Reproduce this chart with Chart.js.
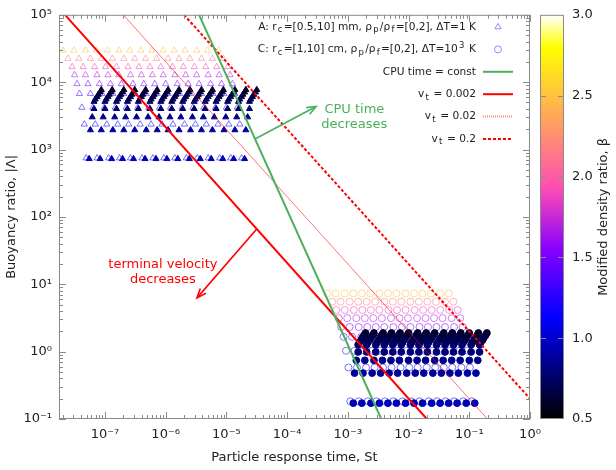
<!DOCTYPE html>
<html><head><meta charset="utf-8">
<script src="https://cdn.jsdelivr.net/npm/chart.js@4/dist/chart.umd.min.js"></script>
<style>html,body{margin:0;padding:0;background:#fff}#wrap{width:616px;height:470px;position:relative}</style>
</head><body><div id="wrap"><canvas id="c" width="616" height="470"></canvas></div>
<script>
const FONT = "'DejaVu Sans', sans-serif";
// ---------------- data ----------------
const xTickValues = [1e-7, 1e-6, 1e-5, 1e-4, 1e-3, 1e-2, 1e-1, 1];
const xTickLabels = ['10⁻⁷', '10⁻⁶', '10⁻⁵', '10⁻⁴', '10⁻³', '10⁻²', '10⁻¹', '10⁰'];
const yTickValues = [0.1, 1, 10, 100, 1000, 10000, 100000];
const yTickLabels = ['10⁻¹', '10⁰', '10¹', '10²', '10³', '10⁴', '10⁵'];
const cbTicks = [0.5, 1.0, 1.5, 2.0, 2.5, 3.0];
const cbTickLabels = ['0.5', '1.0', '1.5', '2.0', '2.5', '3.0'];

// modified density ratio of each row of points (same rows for case A and case C)
const betaRows = [2.5, 2.14, 1.88, 1.67, 1.5, 1.36, 1.25, 1.15, 1.07, 0.94, 0.88, 0.83, 0.79, 0.75, 0.71, 0.68, 0.65, 0.63, 0.6];
// buoyancy ratio |Λ| of each row
const lambdaA = [29700, 22400, 16900, 12800, 9440, 6750, 4210, 2370, 746, 728, 1950, 3030, 4030, 5150, 5580, 6050, 6560, 7110, 7710];
const lambdaC = [7.29, 5.51, 4.15, 3.14, 2.32, 1.66, 1.03, 0.582, 0.183, 0.172, 0.480, 0.743, 0.989, 1.26, 1.37, 1.49, 1.61, 1.75, 1.89];
// log10 of particle response time St, per row (15 particle radii)
const logStA = [
[-7.69,-7.51,-7.32,-7.14,-6.96,-6.77,-6.59,-6.41,-6.23,-6.04,-5.86,-5.68,-5.49,-5.31,-5.13],
[-7.61,-7.43,-7.24,-7.06,-6.88,-6.69,-6.51,-6.33,-6.15,-5.96,-5.78,-5.60,-5.41,-5.23,-5.05],
[-7.54,-7.36,-7.17,-6.99,-6.81,-6.62,-6.44,-6.26,-6.08,-5.89,-5.71,-5.53,-5.34,-5.16,-4.98],
[-7.50,-7.32,-7.13,-6.95,-6.77,-6.58,-6.40,-6.22,-6.04,-5.85,-5.67,-5.49,-5.30,-5.12,-4.94],
[-7.46,-7.28,-7.09,-6.91,-6.73,-6.54,-6.36,-6.18,-6.00,-5.81,-5.63,-5.45,-5.26,-5.08,-4.90],
[-7.42,-7.24,-7.05,-6.87,-6.69,-6.50,-6.32,-6.14,-5.96,-5.77,-5.59,-5.41,-5.22,-5.04,-4.86],
[-7.38,-7.20,-7.01,-6.83,-6.65,-6.46,-6.28,-6.10,-5.92,-5.73,-5.55,-5.37,-5.18,-5.00,-4.82],
[-7.34,-7.16,-6.97,-6.79,-6.61,-6.42,-6.24,-6.06,-5.88,-5.69,-5.51,-5.33,-5.14,-4.96,-4.78],
[-7.31,-7.13,-6.94,-6.76,-6.58,-6.39,-6.21,-6.03,-5.85,-5.66,-5.48,-5.30,-5.11,-4.93,-4.75],
[-7.26,-7.08,-6.89,-6.71,-6.53,-6.34,-6.16,-5.98,-5.80,-5.61,-5.43,-5.25,-5.06,-4.88,-4.70],
[-7.24,-7.06,-6.87,-6.69,-6.51,-6.32,-6.14,-5.96,-5.78,-5.59,-5.41,-5.23,-5.04,-4.86,-4.68],
[-7.21,-7.03,-6.84,-6.66,-6.48,-6.29,-6.11,-5.93,-5.75,-5.56,-5.38,-5.20,-5.01,-4.83,-4.65],
[-7.18,-7.00,-6.81,-6.63,-6.45,-6.26,-6.08,-5.90,-5.72,-5.53,-5.35,-5.17,-4.98,-4.80,-4.62],
[-7.18,-7.00,-6.81,-6.63,-6.45,-6.26,-6.08,-5.90,-5.72,-5.53,-5.35,-5.17,-4.98,-4.80,-4.62],
[-7.16,-6.98,-6.79,-6.61,-6.43,-6.24,-6.06,-5.88,-5.70,-5.51,-5.33,-5.15,-4.96,-4.78,-4.60],
[-7.13,-6.95,-6.76,-6.58,-6.40,-6.21,-6.03,-5.85,-5.67,-5.48,-5.30,-5.12,-4.93,-4.75,-4.57],
[-7.11,-6.93,-6.74,-6.56,-6.38,-6.19,-6.01,-5.83,-5.65,-5.46,-5.28,-5.10,-4.91,-4.73,-4.55],
[-7.08,-6.90,-6.71,-6.53,-6.35,-6.16,-5.98,-5.80,-5.62,-5.43,-5.25,-5.07,-4.88,-4.70,-4.52],
[-7.06,-6.88,-6.69,-6.51,-6.33,-6.14,-5.96,-5.78,-5.60,-5.41,-5.23,-5.05,-4.86,-4.68,-4.50]
];
const logStC = [
[-3.34,-3.20,-3.05,-2.91,-2.77,-2.63,-2.48,-2.34,-2.20,-2.05,-1.91,-1.77,-1.63,-1.48,-1.34],
[-3.26,-3.12,-2.97,-2.83,-2.69,-2.55,-2.40,-2.26,-2.12,-1.97,-1.83,-1.69,-1.55,-1.40,-1.26],
[-3.19,-3.05,-2.90,-2.76,-2.62,-2.48,-2.33,-2.19,-2.05,-1.90,-1.76,-1.62,-1.48,-1.33,-1.19],
[-3.15,-3.01,-2.86,-2.72,-2.58,-2.44,-2.29,-2.15,-2.01,-1.86,-1.72,-1.58,-1.44,-1.29,-1.15],
[-3.11,-2.97,-2.82,-2.68,-2.54,-2.40,-2.25,-2.11,-1.97,-1.82,-1.68,-1.54,-1.40,-1.25,-1.11],
[-3.07,-2.93,-2.78,-2.64,-2.50,-2.36,-2.21,-2.07,-1.93,-1.78,-1.64,-1.50,-1.36,-1.21,-1.07],
[-3.03,-2.89,-2.74,-2.60,-2.46,-2.32,-2.17,-2.03,-1.89,-1.74,-1.60,-1.46,-1.32,-1.17,-1.03],
[-2.99,-2.85,-2.70,-2.56,-2.42,-2.28,-2.13,-1.99,-1.85,-1.70,-1.56,-1.42,-1.28,-1.13,-0.99],
[-2.96,-2.82,-2.67,-2.53,-2.39,-2.25,-2.10,-1.96,-1.82,-1.67,-1.53,-1.39,-1.25,-1.10,-0.96],
[-2.91,-2.77,-2.62,-2.48,-2.34,-2.20,-2.05,-1.91,-1.77,-1.62,-1.48,-1.34,-1.20,-1.05,-0.91],
[-2.89,-2.75,-2.60,-2.46,-2.32,-2.18,-2.03,-1.89,-1.75,-1.60,-1.46,-1.32,-1.18,-1.03,-0.89],
[-2.86,-2.72,-2.57,-2.43,-2.29,-2.15,-2.00,-1.86,-1.72,-1.57,-1.43,-1.29,-1.15,-1.00,-0.86],
[-2.83,-2.69,-2.54,-2.40,-2.26,-2.12,-1.97,-1.83,-1.69,-1.54,-1.40,-1.26,-1.12,-0.97,-0.83],
[-2.83,-2.69,-2.54,-2.40,-2.26,-2.12,-1.97,-1.83,-1.69,-1.54,-1.40,-1.26,-1.12,-0.97,-0.83],
[-2.81,-2.67,-2.52,-2.38,-2.24,-2.10,-1.95,-1.81,-1.67,-1.52,-1.38,-1.24,-1.10,-0.95,-0.81],
[-2.78,-2.64,-2.49,-2.35,-2.21,-2.07,-1.92,-1.78,-1.64,-1.49,-1.35,-1.21,-1.07,-0.92,-0.78],
[-2.76,-2.62,-2.47,-2.33,-2.19,-2.05,-1.90,-1.76,-1.62,-1.47,-1.33,-1.19,-1.05,-0.90,-0.76],
[-2.73,-2.59,-2.44,-2.30,-2.16,-2.02,-1.87,-1.73,-1.59,-1.44,-1.30,-1.16,-1.02,-0.87,-0.73],
[-2.71,-2.57,-2.42,-2.28,-2.14,-2.00,-1.85,-1.71,-1.57,-1.42,-1.28,-1.14,-1.00,-0.85,-0.71]
];
// reference lines (end points)
const cpuLine    = [{x:3.55e-6, y:1e5}, {x:3.55e-3, y:0.1}];
const vt0002Line = [{x:2.2e-8, y:1e5}, {x:2e-2, y:0.1}];
const vt002Line  = [{x:2e-7, y:1e5}, {x:2e-1, y:0.1}];
const vt02Line   = [{x:2e-6, y:1e5}, {x:1, y:0.2}];
// annotation anchors (data coordinates)
const cpuArrow = [{x:2.96e-5, y:1430}, {x:3.0e-4, y:4350}];
const cpuText = {x:1.28e-3, y:3950, lines:['CPU time', 'decreases']};
const vtArrow = [{x:3.19e-5, y:66.5}, {x:3.28e-6, y:6.28}];
const vtText = {x:9.0e-7, y:19.8, lines:['terminal velocity', 'decreases']};

// ---------------- palette (gnuplot rgbformulae 30,31,32) ----------------
const CB_MIN = 0.5, CB_MAX = 3.0;
function clamp(v){return Math.max(0, Math.min(1, v));}
function palette(beta, alpha){
  const x = clamp((beta - CB_MIN) / (CB_MAX - CB_MIN));
  const r = clamp(x/0.32 - 0.78125);
  const g = clamp(2*x - 0.84);
  let b;
  if (x < 0.25) b = 4*x; else if (x < 0.42) b = 1; else if (x < 0.92) b = -2*x + 1.84; else b = x/0.08 - 11.5;
  b = clamp(b);
  return `rgba(${Math.round(r*255)},${Math.round(g*255)},${Math.round(b*255)},${alpha == null ? 1 : alpha})`;
}

// ---------------- datasets ----------------
const datasets = [];
function addFamily(logSt, lambdas, style, rOpen, rFill){
  betaRows.forEach((beta, i) => {
    const open = beta > 1;
    datasets.push({
      type: 'scatter',
      data: logSt[i].map(e => ({x: Math.pow(10, e), y: lambdas[i]})),
      pointStyle: style,
      pointRadius: open ? rOpen : rFill,
      borderWidth: 1,
      borderColor: open ? palette(beta, 0.55) : palette(beta),
      backgroundColor: open ? 'rgba(0,0,0,0)' : palette(beta),
      order: open ? 3 : 2
    });
  });
}
addFamily(logStA, lambdaA, 'triangle', 3.6, 3.5);
addFamily(logStC, lambdaC, 'circle', 3.5, 3.4);
const RED_THIN = 'rgba(255,0,0,0.55)';
function addLine(data, color, width, dash){
  datasets.push({type:'scatter', data, showLine:true, pointRadius:0, borderColor:color, borderWidth:width, borderDash:dash, backgroundColor:color, order:0});
}
addLine(cpuLine, '#4caf5a', 2, []);
addLine(vt0002Line, '#ff0000', 2, []);
addLine(vt002Line, RED_THIN, 1, []);
addLine(vt02Line, '#ff0000', 2, [3,2]);

// ---------------- plugins ----------------
const GRAY = '#8a8a8a';
const framePlugin = {
  id: 'frame',
  afterDatasetsDraw(chart){
    const {ctx, chartArea: a, scales: {x, y}} = chart;
    ctx.save();
    ctx.strokeStyle = GRAY; ctx.lineWidth = 1;
    ctx.strokeRect(a.left + 0.5, a.top + 0.5, a.right - a.left - 1, a.bottom - a.top - 1);
    ctx.beginPath();
    for (let k = -8; k <= 0; k++) {
      for (let m = 1; m <= 9; m++) {
        const v = m * Math.pow(10, k);
        if (v < x.min * 0.999 || v > x.max * 1.001) continue;
        const px = Math.round(x.getPixelForValue(v)) + 0.5;
        const L = m === 1 ? 7 : 4;
        ctx.moveTo(px, a.bottom); ctx.lineTo(px, a.bottom - L);
        ctx.moveTo(px, a.top); ctx.lineTo(px, a.top + L);
      }
    }
    for (let k = -1; k <= 5; k++) {
      for (let m = 1; m <= 9; m++) {
        const v = m * Math.pow(10, k);
        if (v < y.min * 0.999 || v > y.max * 1.001) continue;
        const py = Math.round(y.getPixelForValue(v)) + 0.5;
        const L = m === 1 ? 7 : 4;
        ctx.moveTo(a.left, py); ctx.lineTo(a.left + L, py);
        ctx.moveTo(a.right, py); ctx.lineTo(a.right - L, py);
      }
    }
    ctx.stroke();
    ctx.restore();
  }
};

function drawArrow(ctx, x0, y0, x1, y1, color){
  ctx.save();
  ctx.strokeStyle = color; ctx.lineWidth = 1.6;
  ctx.beginPath(); ctx.moveTo(x0, y0); ctx.lineTo(x1, y1); ctx.stroke();
  const ang = Math.atan2(y1 - y0, x1 - x0), L = 10, h = 0.38;
  ctx.beginPath();
  ctx.moveTo(x1 - L*Math.cos(ang - h), y1 - L*Math.sin(ang - h));
  ctx.lineTo(x1, y1);
  ctx.lineTo(x1 - L*Math.cos(ang + h), y1 - L*Math.sin(ang + h));
  ctx.stroke();
  ctx.restore();
}

const SUB = 0.8, SUBGAP = 2.5;
function segWidth(ctx, s, size){
  ctx.font = `${s[1] ? size*SUB : size}px ${FONT}`;
  return ctx.measureText(s[0]).width + (s[1] ? SUBGAP : 0);
}
function drawRich(ctx, segs, xRight, yMid, size){
  let x = xRight - segs.reduce((w, s) => w + segWidth(ctx, s, size), 0);
  ctx.textBaseline = 'middle'; ctx.textAlign = 'left';
  segs.forEach(s => {
    const w = segWidth(ctx, s, size);
    const dy = s[1] === 'sub' ? size*0.3 : s[1] === 'sup' ? -size*0.38 : 0;
    ctx.fillText(s[0], x + (s[1] ? SUBGAP/2 : 0), yMid + dy);
    x += w;
  });
}

const legendEntries = [
  {segs:[['A: r',''],['c','sub'],['=[0.5,10] mm, ρ',''],['p','sub'],['/ρ',''],['f','sub'],['=[0,2], ΔT=1 K','']], kind:'tri'},
  {segs:[['C: r',''],['c','sub'],['=[1,10] cm, ρ',''],['p','sub'],['/ρ',''],['f','sub'],['=[0,2], ΔT=10',''],['3','sup'],[' K','']], kind:'circ'},
  {segs:[['CPU time = const','']], kind:'line', color:'#4caf5a', width:2, dash:[]},
  {segs:[['v',''],['t','sub'],[' = 0.002','']], kind:'line', color:'#ff0000', width:2, dash:[]},
  {segs:[['v',''],['t','sub'],[' = 0.02','']], kind:'line', color:'rgba(255,60,60,0.6)', width:2, dash:[1,1]},
  {segs:[['v',''],['t','sub'],[' = 0.2','']], kind:'line', color:'#ff0000', width:2, dash:[3,2]}
];

const overlayPlugin = {
  id: 'overlay',
  afterDraw(chart){
    const {ctx, chartArea: a, scales: {x, y}} = chart;
    ctx.save();
    // annotations
    const px = p => [x.getPixelForValue(p.x), y.getPixelForValue(p.y)];
    let s0 = px(cpuArrow[0]), s1 = px(cpuArrow[1]);
    drawArrow(ctx, s0[0], s0[1], s1[0], s1[1], '#4caf5a');
    s0 = px(vtArrow[0]); s1 = px(vtArrow[1]);
    drawArrow(ctx, s0[0], s0[1], s1[0], s1[1], '#ff0000');
    ctx.font = `13px ${FONT}`; ctx.textAlign = 'center'; ctx.textBaseline = 'middle';
    let t = px(cpuText); ctx.fillStyle = '#4caf5a';
    cpuText.lines.forEach((l, i) => ctx.fillText(l, t[0], t[1] + i*15));
    t = px(vtText); ctx.fillStyle = '#ff0000';
    vtText.lines.forEach((l, i) => ctx.fillText(l, t[0], t[1] + i*15));
    // legend
    const lx = 476, ly0 = 27, dy = 22.4;
    legendEntries.forEach((e, i) => {
      const yy = ly0 + i*dy;
      ctx.fillStyle = '#222';
      drawRich(ctx, e.segs, lx, yy, 10.6);
      ctx.save();
      if (e.kind === 'line') {
        ctx.strokeStyle = e.color; ctx.lineWidth = e.width; ctx.setLineDash(e.dash);
        ctx.beginPath(); ctx.moveTo(483, yy); ctx.lineTo(513, yy); ctx.stroke();
      } else {
        ctx.strokeStyle = 'rgba(120,120,255,0.85)'; ctx.lineWidth = 1;
        ctx.beginPath();
        if (e.kind === 'tri') {
          const r = 3.6;
          ctx.moveTo(498, yy - r); ctx.lineTo(498 + r*0.866, yy + r/2); ctx.lineTo(498 - r*0.866, yy + r/2); ctx.closePath();
        } else {
          ctx.arc(498, yy, 3.5, 0, Math.PI*2);
        }
        ctx.stroke();
      }
      ctx.restore();
    });
    // colorbar
    const cbL = 540, cbR = 564, cbT = a.top, cbB = a.bottom;
    const grad = ctx.createLinearGradient(0, cbB, 0, cbT);
    for (let i = 0; i <= 60; i++) grad.addColorStop(i/60, palette(CB_MIN + (CB_MAX - CB_MIN)*i/60));
    ctx.fillStyle = grad; ctx.fillRect(cbL, cbT, cbR - cbL, cbB - cbT);
    ctx.strokeStyle = GRAY; ctx.lineWidth = 1;
    ctx.strokeRect(cbL + 0.5, cbT + 0.5, cbR - cbL - 1, cbB - cbT - 1);
    ctx.fillStyle = '#222'; ctx.font = `13px ${FONT}`; ctx.textAlign = 'left'; ctx.textBaseline = 'middle';
    cbTicks.forEach((v, i) => {
      const yy = cbB - (v - CB_MIN)/(CB_MAX - CB_MIN)*(cbB - cbT);
      if (i > 0 && i < cbTicks.length - 1) {
        ctx.beginPath();
        ctx.moveTo(cbL, Math.round(yy)+0.5); ctx.lineTo(cbL + 6, Math.round(yy)+0.5);
        ctx.moveTo(cbR, Math.round(yy)+0.5); ctx.lineTo(cbR - 6, Math.round(yy)+0.5);
        ctx.stroke();
      }
      ctx.fillText(cbTickLabels[i], 572, yy);
    });
    ctx.save();
    ctx.translate(604, (cbT + cbB)/2); ctx.rotate(-Math.PI/2);
    ctx.textAlign = 'center'; ctx.textBaseline = 'middle'; ctx.font = `13px ${FONT}`;
    ctx.fillText('Modified density ratio, β', 0, 0);
    ctx.restore();
    ctx.restore();
  }
};

// ---------------- chart ----------------
new Chart(document.getElementById('c'), {
  type: 'scatter',
  data: {datasets},
  options: {
    responsive: false, animation: false, devicePixelRatio: 1, events: [],
    layout: {padding: {left: 0, right: 86, top: 9, bottom: 0}},
    plugins: {legend: {display: false}, tooltip: {enabled: false}},
    scales: {
      x: {
        type: 'logarithmic', min: 1.75e-8, max: 1,
        afterBuildTicks: s => { s.ticks = xTickValues.map(v => ({value: v})); },
        afterFit: s => { s.height = 51; },
        ticks: {callback: (v, i) => xTickLabels[i], font: {family: FONT, size: 13}, color: '#222', padding: 8, maxRotation: 0, autoSkip: false},
        grid: {display: false, drawTicks: false}, border: {display: false},
        title: {display: true, text: 'Particle response time, St', font: {family: FONT, size: 13}, color: '#222', padding: {top: 0, bottom: 5}}
      },
      y: {
        type: 'logarithmic', min: 0.1, max: 1e5,
        afterBuildTicks: s => { s.ticks = yTickValues.map(v => ({value: v})); },
        afterFit: s => { s.width = 59; },
        ticks: {callback: (v, i) => yTickLabels[i], font: {family: FONT, size: 13}, color: '#222', padding: 7, autoSkip: false},
        grid: {display: false, drawTicks: false}, border: {display: false},
        title: {display: true, text: 'Buoyancy ratio, |Λ|', font: {family: FONT, size: 13}, color: '#222', padding: {top: 4, bottom: 0}}
      }
    }
  },
  plugins: [framePlugin, overlayPlugin]
});
</script>
</body></html>
